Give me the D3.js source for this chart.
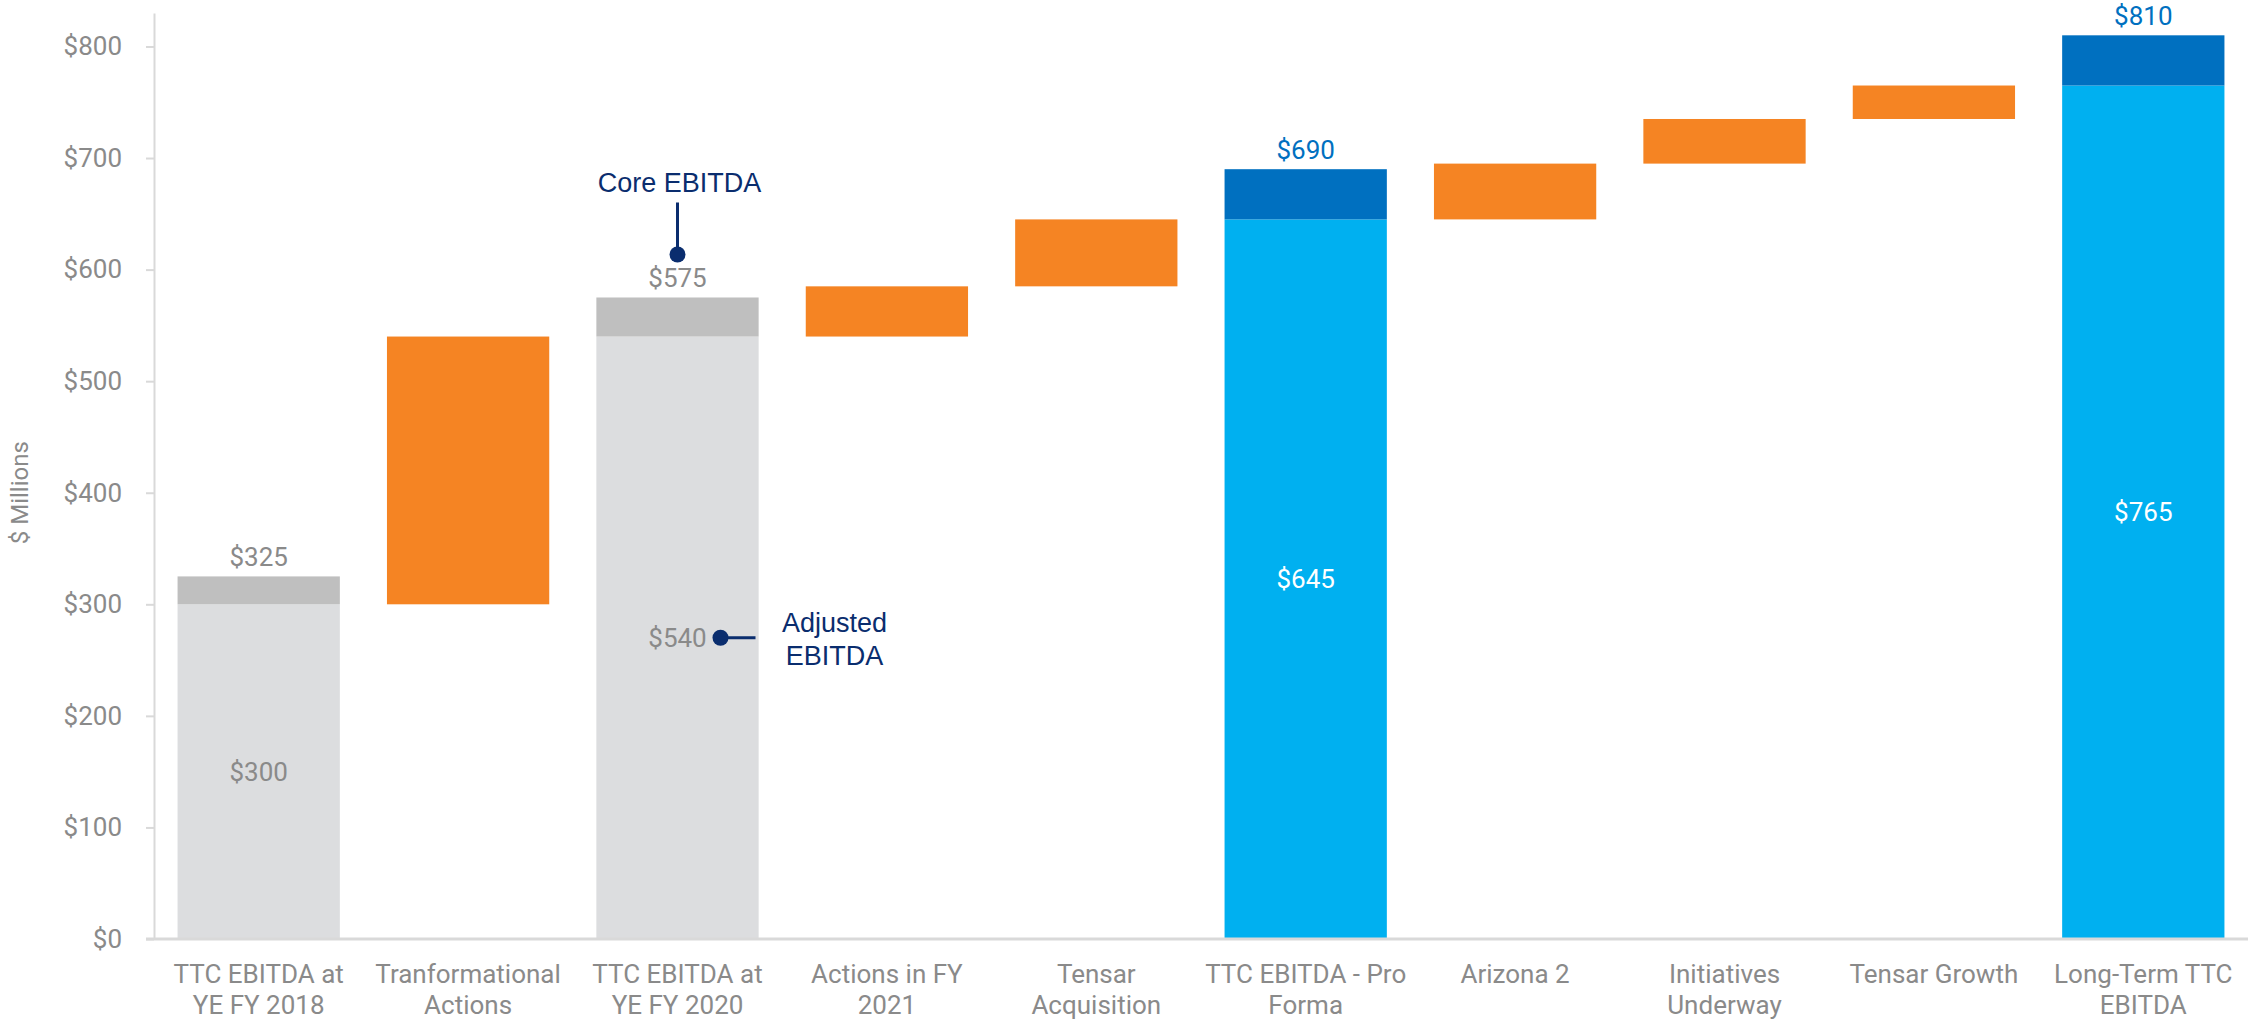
<!DOCTYPE html>
<html>
<head>
<meta charset="utf-8">
<script src="https://cdn.jsdelivr.net/npm/d3@7"></script>
<style>
  body { margin: 0; background: #fff; }
  svg { display: block; font-family: Roboto, sans-serif; }
</style>
</head>
<body>
<svg></svg>
<script>
const width = 2262;
const height = 1019;
const margin = { top: 13, right: 14, bottom: 80, left: 154 };

// chart values
const categories = [
  'TTC EBITDA at\nYE FY 2018', 'Tranformational\nActions', 'TTC EBITDA at\nYE FY 2020',
  'Actions in FY\n2021', 'Tensar\nAcquisition', 'TTC EBITDA - Pro\nForma',
  'Arizona 2', 'Initiatives\nUnderway', 'Tensar Growth', 'Long-Term TTC\nEBITDA'
];
const barStart = [0, 300, 0, 540, 585, 0, 645, 695, 735, 0];
const barEnd = [300, 540, 540, 585, 645, 645, 695, 735, 765, 765];
const barKind = ['hist', 'step', 'hist', 'step', 'step', 'pro', 'step', 'step', 'step', 'pro'];
const capEnd = [325, null, 575, null, null, 690, null, null, null, 810];
const yTicks = [0, 100, 200, 300, 400, 500, 600, 700, 800];

const fill = { hist: '#dcdddf', step: '#f58423', pro: '#00b0f0' };
const capFill = { hist: '#bfbfbf', pro: '#0070c0' };
const capText = { hist: '#8a8a8a', pro: '#0070c0' };
const innerText = { hist: '#8a8a8a', pro: '#ffffff' };
const grey = '#8a8a8a';
const navy = '#0a2d6e';

const rows = categories.map((c, i) => ({
  cat: c, start: barStart[i], end: barEnd[i], kind: barKind[i], cap: capEnd[i]
}));

const svg = d3.select('svg')
  .attr('width', width)
  .attr('height', height);

const xScale = d3.scaleBand()
  .domain(categories)
  .range([margin.left, width - margin.right])
  .paddingInner(0.225)
  .paddingOuter(0.1125);

const yScale = d3.scaleLinear()
  .domain([0, 830])
  .range([height - margin.bottom, margin.top]);

// y axis
const yAxis = d3.axisLeft(yScale)
  .tickValues(yTicks)
  .tickSize(8)
  .tickSizeOuter(0)
  .tickPadding(24)
  .tickFormat(d => '$' + d);

const gy = svg.append('g')
  .attr('transform', `translate(${margin.left},0)`)
  .call(yAxis);
gy.select('.domain').attr('stroke', '#d9d9d9').attr('stroke-width', 2);
gy.selectAll('.tick line').attr('stroke', '#d9d9d9').attr('stroke-width', 2);
gy.selectAll('.tick text')
  .attr('fill', grey)
  .style('font-size', '26px')
  .style('font-family', 'Roboto, sans-serif');

svg.append('text')
  .attr('transform', `translate(28,${yScale(400)}) rotate(-90)`)
  .attr('text-anchor', 'middle')
  .attr('fill', grey)
  .style('font-size', '24px')
  .text('$ Millions');

// bars
svg.selectAll('.bar')
  .data(rows)
  .enter().append('rect')
  .attr('class', 'bar')
  .attr('x', d => xScale(d.cat))
  .attr('y', d => yScale(d.end))
  .attr('width', xScale.bandwidth())
  .attr('height', d => yScale(d.start) - yScale(d.end))
  .attr('fill', d => fill[d.kind]);

const capped = rows.filter(d => d.cap !== null);

svg.selectAll('.cap')
  .data(capped)
  .enter().append('rect')
  .attr('class', 'cap')
  .attr('x', d => xScale(d.cat))
  .attr('y', d => yScale(d.cap))
  .attr('width', xScale.bandwidth())
  .attr('height', d => yScale(d.end) - yScale(d.cap))
  .attr('fill', d => capFill[d.kind]);

// x axis line
svg.append('line')
  .attr('x1', margin.left - 8)
  .attr('x2', width - margin.right)
  .attr('y1', yScale(0))
  .attr('y2', yScale(0))
  .attr('stroke', '#d9d9d9')
  .attr('stroke-width', 3);

// value labels
svg.selectAll('.cap-label')
  .data(capped)
  .enter().append('text')
  .attr('x', d => xScale(d.cat) + xScale.bandwidth() / 2)
  .attr('y', d => yScale(d.cap) - 10)
  .attr('text-anchor', 'middle')
  .attr('fill', d => capText[d.kind])
  .style('font-size', '26px')
  .text(d => '$' + d.cap);

svg.selectAll('.inner-label')
  .data(capped)
  .enter().append('text')
  .attr('x', d => xScale(d.cat) + xScale.bandwidth() / 2)
  .attr('y', d => yScale(d.end / 2) + 9)
  .attr('text-anchor', 'middle')
  .attr('fill', d => innerText[d.kind])
  .style('font-size', '26px')
  .text(d => '$' + d.end);

// category labels
const catText = svg.selectAll('.cat')
  .data(categories)
  .enter().append('text')
  .attr('class', 'cat')
  .attr('text-anchor', 'middle')
  .attr('fill', grey)
  .style('font-size', '26px');

catText.selectAll('tspan')
  .data(d => d.split('\n').map(t => ({ t, c: d })))
  .enter().append('tspan')
  .attr('x', d => xScale(d.c) + xScale.bandwidth() / 2)
  .attr('y', (d, i) => yScale(0) + 44 + i * 31)
  .text(d => d.t);

// annotations on the FY 2020 bar
const fy20 = rows[2];
const cx = xScale(fy20.cat) + xScale.bandwidth() / 2;
const ann = svg.append('g')
  .style('font-family', '"Liberation Sans", Arial, sans-serif')
  .style('font-size', '27px')
  .attr('fill', navy);

ann.append('text')
  .attr('x', cx + 2)
  .attr('y', yScale(fy20.cap) - 105)
  .attr('text-anchor', 'middle')
  .text('Core EBITDA');
ann.append('line')
  .attr('x1', cx).attr('x2', cx)
  .attr('y1', yScale(fy20.cap) - 95)
  .attr('y2', yScale(fy20.cap) - 43)
  .attr('stroke', navy).attr('stroke-width', 3);
ann.append('circle')
  .attr('cx', cx).attr('cy', yScale(fy20.cap) - 43)
  .attr('r', 8).attr('fill', navy);

const ay = yScale(fy20.end / 2);
ann.append('circle')
  .attr('cx', cx + 43).attr('cy', ay)
  .attr('r', 8).attr('fill', navy);
ann.append('line')
  .attr('x1', cx + 43).attr('x2', cx + 78)
  .attr('y1', ay).attr('y2', ay)
  .attr('stroke', navy).attr('stroke-width', 3);
const adj = ann.append('text').attr('text-anchor', 'middle');
adj.append('tspan').attr('x', cx + 157).attr('y', ay - 6).text('Adjusted');
adj.append('tspan').attr('x', cx + 157).attr('y', ay + 27).text('EBITDA');
</script>
</body>
</html>
